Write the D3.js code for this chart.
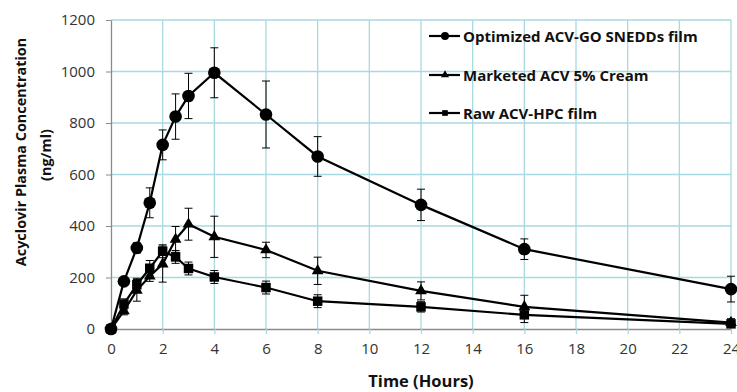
<!DOCTYPE html>
<html>
<head>
<meta charset="utf-8">
<script src="https://cdn.jsdelivr.net/npm/d3@7"></script>
<style>
  body { margin: 0; background: #fff; }
  svg { display: block; }
  .tick text { font-family: 'Open Sans', sans-serif; font-size: 15px; fill: #333; }
  .title { font-family: 'Open Sans', sans-serif; font-weight: bold; fill: #111; }
  .legend text { font-family: 'Open Sans', sans-serif; font-weight: bold; font-size: 15px; fill: #111; }
</style>
</head>
<body>
<div id="chartArea"></div>
<script>
var hours = [0, 0.5, 1, 1.5, 2, 2.5, 3, 4, 6, 8, 12, 16, 24];

var optimizedMean = [0, 185, 315, 490, 715, 825, 905, 995, 833, 670, 482, 310, 155];
var optimizedSd   = [5, 15, 20, 58, 58, 88, 88, 97, 130, 77, 61, 40, 50];

var marketedMean = [0, 70, 150, 205, 252, 348, 407, 358, 307, 226, 148, 86, 25];
var marketedSd   = [3, 15, 42, 20, 70, 50, 62, 80, 30, 53, 35, 45, 15];

var rawMean = [0, 97, 172, 236, 302, 280, 235, 202, 161, 108, 86, 55, 20];
var rawSd   = [3, 20, 25, 30, 25, 25, 25, 25, 25, 25, 20, 30, 10];

var xTicks = [0, 2, 4, 6, 8, 10, 12, 14, 16, 18, 20, 22, 24];
var yTicks = [0, 200, 400, 600, 800, 1000, 1200];

var seriesNames = ['Optimized ACV-GO SNEDDs film', 'Marketed ACV 5% Cream', 'Raw ACV-HPC film'];
var seriesMarkers = ['circle', 'triangle', 'square'];

var w = 737, h = 392;
var margin = { top: 20, right: 6, bottom: 63, left: 111 };
var iw = w - margin.left - margin.right,
    ih = h - margin.top - margin.bottom;

var svg = d3.select('#chartArea').append('svg')
    .attr('width', w)
    .attr('height', h);

var g = svg.append('g')
    .attr('transform', 'translate(' + margin.left + ', ' + margin.top + ')');

var xScale = d3.scaleLinear().domain([0, 24]).range([0, iw]);
var yScale = d3.scaleLinear().domain([0, 1200]).range([ih, 0]);

// grid
g.selectAll('.vgrid')
    .data(xTicks.slice(1))
    .enter().append('line')
    .attr('x1', function(d) { return xScale(d); })
    .attr('x2', function(d) { return xScale(d); })
    .attr('y1', 0).attr('y2', ih)
    .attr('stroke', '#a9d9e2').attr('stroke-width', 1.3);

g.selectAll('.hgrid')
    .data(yTicks.slice(1))
    .enter().append('line')
    .attr('x1', 0).attr('x2', iw)
    .attr('y1', function(d) { return yScale(d); })
    .attr('y2', function(d) { return yScale(d); })
    .attr('stroke', '#a9d9e2').attr('stroke-width', 1.3);

// axes
var xAxis = g.append('g')
    .attr('transform', 'translate(0,' + ih + ')')
    .call(d3.axisBottom(xScale).tickValues(xTicks).tickFormat(d3.format('d'))
        .tickSize(5).tickPadding(9).tickSizeOuter(0));
var yAxis = g.append('g')
    .call(d3.axisLeft(yScale).tickValues(yTicks).tickFormat(d3.format('d'))
        .tickSize(5).tickPadding(11).tickSizeOuter(0));
xAxis.select('.domain').attr('stroke', '#8a8a8a').attr('stroke-width', 1.3);
xAxis.selectAll('.tick line').attr('stroke', '#a9d9e2').attr('stroke-width', 1.3);
yAxis.select('.domain').attr('stroke', '#8a8a8a').attr('stroke-width', 1.3);
yAxis.selectAll('.tick line').attr('stroke', '#8a8a8a');

// titles
svg.append('text').attr('class', 'title')
    .attr('text-anchor', 'middle')
    .style('font-size', '16.5px')
    .attr('x', margin.left + iw / 2).attr('y', 387)
    .text('Time (Hours)');

svg.append('text').attr('class', 'title')
    .attr('text-anchor', 'middle')
    .style('font-size', '14.4px')
    .attr('transform', 'translate(26,152) rotate(-90)')
    .text('Acyclovir Plasma Concentration');
svg.append('text').attr('class', 'title')
    .attr('text-anchor', 'middle')
    .style('font-size', '14.4px')
    .attr('transform', 'translate(51,155) rotate(-90)')
    .text('(ng/ml)');

var series = [
    { name: seriesNames[0], marker: seriesMarkers[0], mean: optimizedMean, sd: optimizedSd },
    { name: seriesNames[1], marker: seriesMarkers[1], mean: marketedMean, sd: marketedSd },
    { name: seriesNames[2], marker: seriesMarkers[2], mean: rawMean, sd: rawSd }
];

var symbolType = { circle: d3.symbolCircle, triangle: d3.symbolTriangle, square: d3.symbolSquare };
var symbolSize = { circle: 125, triangle: 60, square: 90 };

var line = d3.line()
    .x(function(d) { return xScale(d.t); })
    .y(function(d) { return yScale(d.v); });

series.forEach(function(s) {
    var pts = hours.map(function(t, i) { return { t: t, v: s.mean[i], e: s.sd[i] }; });
    var sg = g.append('g');

    sg.append('path')
        .attr('d', line(pts))
        .attr('fill', 'none')
        .attr('stroke', '#000')
        .attr('stroke-width', 2.2);

    var eb = sg.selectAll('.err').data(pts).enter().append('g');
    eb.append('line')
        .attr('x1', function(d) { return xScale(d.t); })
        .attr('x2', function(d) { return xScale(d.t); })
        .attr('y1', function(d) { return yScale(d.v + d.e); })
        .attr('y2', function(d) { return yScale(Math.max(0, d.v - d.e)); })
        .attr('stroke', '#000').attr('stroke-width', 1);
    [1, -1].forEach(function(sign) {
        eb.append('line')
            .attr('x1', function(d) { return xScale(d.t) - 4; })
            .attr('x2', function(d) { return xScale(d.t) + 4; })
            .attr('y1', function(d) { return yScale(Math.max(0, d.v + sign * d.e)); })
            .attr('y2', function(d) { return yScale(Math.max(0, d.v + sign * d.e)); })
            .attr('stroke', '#000').attr('stroke-width', 1);
    });

    sg.selectAll('.pt').data(pts).enter().append('path')
        .attr('d', d3.symbol().type(symbolType[s.marker]).size(symbolSize[s.marker]))
        .attr('transform', function(d) { return 'translate(' + xScale(d.t) + ',' + yScale(d.v) + ')'; })
        .attr('fill', '#000');
});

// legend
var legend = svg.append('g').attr('class', 'legend');
var rows = legend.selectAll('g').data(series).enter().append('g')
    .attr('transform', function(d, i) { return 'translate(429,' + [36, 75, 113][i] + ')'; });
rows.append('line')
    .attr('x1', 0).attr('x2', 31).attr('y1', 0).attr('y2', 0)
    .attr('stroke', '#000').attr('stroke-width', 2.2);
rows.append('path')
    .attr('d', function(d) {
        return d3.symbol().type(symbolType[d.marker]).size({ circle: 50, triangle: 28, square: 32 }[d.marker])();
    })
    .attr('transform', 'translate(16,0)')
    .attr('fill', '#000');
rows.append('text')
    .attr('x', 34).attr('y', 5.5)
    .text(function(d) { return d.name; });
</script>
</body>
</html>
